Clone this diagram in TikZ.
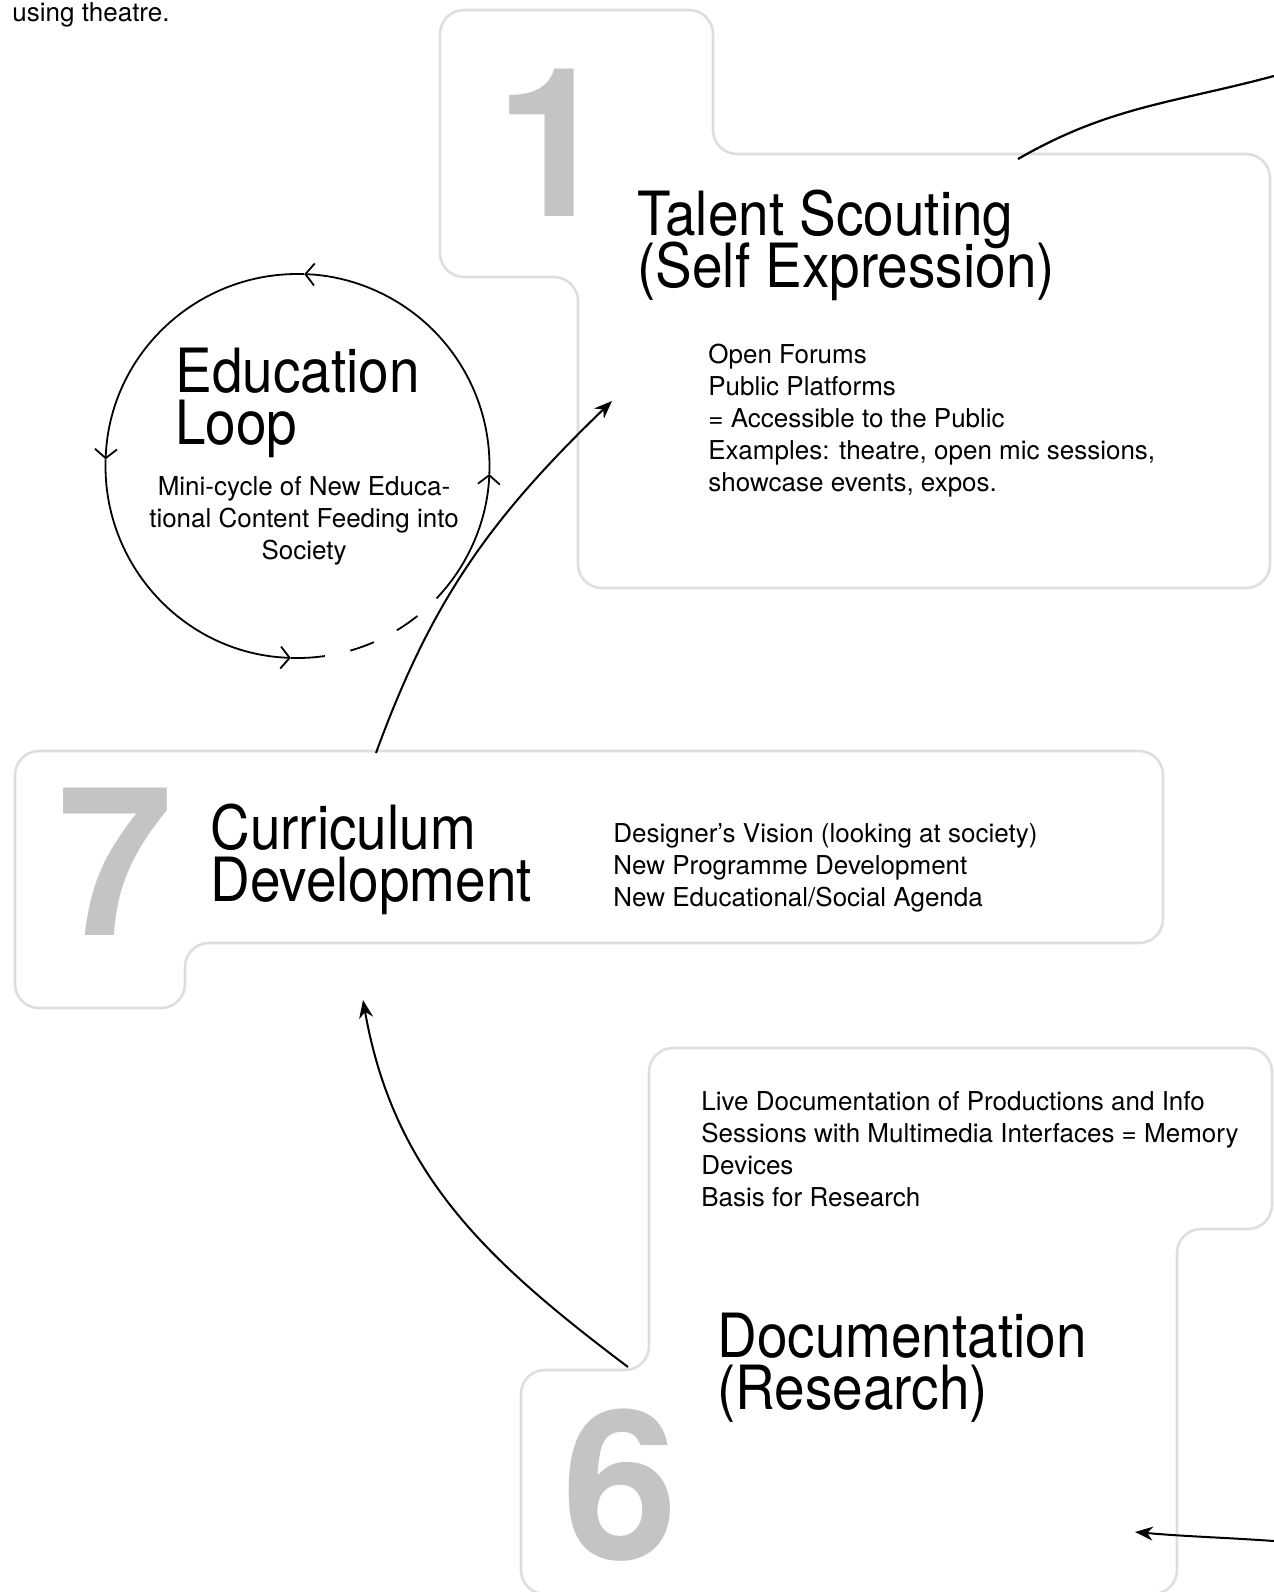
\documentclass[tikz,border=0pt]{standalone}
\usepackage{fontspec}
\setmainfont{TeX Gyre Heros}
\usepackage{graphicx}
\usetikzlibrary{arrows.meta}
\usetikzlibrary{positioning}

\definecolor{boxgray}{HTML}{DEDEDE}
\definecolor{numgray}{HTML}{C4C4C4}
\newcommand{\nar}[1]{\scalebox{0.9}[1]{#1}}
\newcommand{\tightlines}{\lineskiplimit-40pt\relax}

\tikzset{
  outline/.style={draw=boxgray, line width=1.3pt, rounded corners=12pt},
  bignum/.style={text=numgray, font=\fontsize{104}{104}\selectfont\bfseries, inner sep=0pt, anchor=base west},
  title/.style={font=\fontsize{30.5}{26}\selectfont\tightlines, inner sep=0pt, anchor=base west, align=left},
  body/.style={font=\fontsize{13}{16}\selectfont\tightlines, inner sep=0pt, anchor=base west, align=left},
  link/.style={line width=1pt, ->, >={Stealth[length=9pt,width=7pt]}},
  loopline/.style={line width=0.9pt},
  looparrow/.style={loopline, ->, >={Straight Barb[length=4.5pt,width=11pt]}},
}

\begin{document}
\begin{tikzpicture}[x=0.5pt, y=0.5pt]

\useasboundingbox (0,0) rectangle (1274,-1592);

% outlines
\draw[outline] (440,-10) -- (713,-10) -- (713,-154) -- (1270,-154) -- (1270,-588)
  -- (578,-588) -- (578,-277) -- (440,-277) -- cycle;
\draw[outline] (15,-751) -- (1163,-751) -- (1163,-943) -- (185,-943)
  -- (185,-1008) -- (15,-1008) -- cycle;
\draw[outline] (649,-1048) -- (1272,-1048) -- (1272,-1229) -- (1177,-1229)
  -- (1177,-1594) -- (521,-1594) -- (521,-1370) -- (649,-1370) -- cycle;

% numbers (anchored at the baseline)
\node[bignum] (num1) at (495,-216) {1};
\node[bignum] (num7) at (57,-935) {7};
\node[bignum] (num6) at (562,-1559) {6};

% texts (multi-line nodes sit on their last line)
\node[body] (intro) at (12,-21) {using theatre.};

\node[title] (talent) at (637,-287) {\nar{Talent Scouting}\\\nar{(Self Expression)}};
\node[body] (talentlist) at (708,-491) {Open Forums\\Public Platforms\\= Accessible to the Public\\
  Examples: theatre, open mic sessions,\\showcase events, expos.};

\node[title] (edu) at (175,-444) {\nar{Education}\\\nar{Loop}};
\node[body, align=center, anchor=base] (edutext) at (304,-559) {Mini-cycle of New Educa-\\
  tional Content Feeding into\\Society};

\node[title] (curric) at (210,-901) {\nar{Curriculum}\\\nar{Development}};
\node[body] (curriclist) at (613,-906) {Designer’s Vision (looking at society)\\
  New Programme Development\\New Educational/Social Agenda};

\node[body] (doclist) at (701,-1206) {Live Documentation of Productions and Info\\
  Sessions with Multimedia Interfaces = Memory\\Devices\\Basis for Research};
\node[title] (doc) at (717,-1409) {\nar{Documentation}\\\nar{(Research)}};

% education loop
\coordinate (loop) at (297.5,-466);
\draw[looparrow] (loop) ++(-40:192) arc[start angle=-40, end angle=-2.4, radius=192];
\draw[looparrow] (loop) ++(-2.4:192) arc[start angle=-2.4, end angle=88, radius=192];
\draw[looparrow] (loop) ++(88:192) arc[start angle=88, end angle=178, radius=192];
\draw[looparrow] (loop) ++(178:192) arc[start angle=178, end angle=268, radius=192];
\draw[loopline] (loop) ++(268:192) arc[start angle=268, end angle=278.2, radius=192];
\draw[loopline, dash pattern=on 12.5pt off 13pt, dash phase=12.5pt]
  (loop) ++(278.2:192) arc[start angle=278.2, end angle=320, radius=192];

% links
\coordinate (curtop) at (376,-753);
\coordinate (talentin) at (612,-401);
\coordinate (docout) at (628,-1367);
\coordinate (curin) at (363,-1000);
\coordinate (talentout) at (1018,-159);
\coordinate (edgeNE) at (1274,-76);
\coordinate (edgeSE) at (1274,-1541);
\coordinate (docin) at (1135,-1532);

\draw[link] (curtop) to[out=70, in=224] (talentin);
\draw[link] (docout) to[out=143, in=280] (curin);
\draw[line width=1.1pt] (talentout) to[out=30, in=195] (edgeNE);
\draw[link] (edgeSE) to[out=176, in=-5] (docin);

\end{tikzpicture}
\end{document}
